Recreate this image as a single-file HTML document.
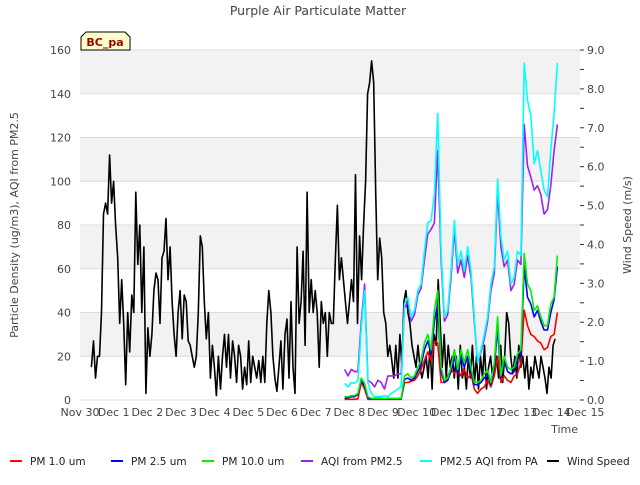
<!DOCTYPE html>
<html><head><meta charset="utf-8"><style>
body{margin:0;background:#fff;font-family:"Liberation Sans","DejaVu Sans",sans-serif;}
svg text{font-family:"DejaVu Sans","Liberation Sans",sans-serif;}
</style></head><body>
<svg id="chart" width="640" height="480" xmlns="http://www.w3.org/2000/svg"></svg>
<script>
// ---- data ----
const dayLabels = ["Nov 30","Dec 1","Dec 2","Dec 3","Dec 4","Dec 5","Dec 6","Dec 7","Dec 8","Dec 9","Dec 10","Dec 11","Dec 12","Dec 13","Dec 14","Dec 15"];
const leftTicks = [0,20,40,60,80,100,120,140,160];
const rightTicks = [0,1,2,3,4,5,6,7,8,9];
// wind speed samples (read in left-axis units, converted to m/s below), uniform spacing
const windStart = 0.34, windEnd = 14.11;
const windRaw = [15,27,10,20,20,40,85,90,85,112,90,100,80,65,35,55,35,7,40,22,48,40,95,62,80,40,70,3,33,20,30,50,58,55,35,65,68,83,55,70,45,30,20,40,50,28,48,45,27,25,20,15,20,40,75,70,45,28,40,10,25,15,2,20,5,20,30,15,30,10,27,20,8,25,20,5,15,7,27,8,20,15,10,18,8,20,8,35,50,40,20,10,4,15,27,5,30,37,10,45,15,3,70,35,45,68,25,95,40,55,40,50,40,15,45,35,40,20,40,35,35,65,89,55,65,55,45,35,45,55,45,103,35,75,55,80,100,140,145,155,145,95,55,74,65,40,35,20,25,18,10,25,10,30,15,45,50,40,35,25,20,15,25,15,10,15,20,10,25,5,30,25,55,35,15,30,10,25,15,20,10,20,5,25,10,15,5,20,10,25,8,20,5,20,10,25,5,15,20,10,15,20,10,25,8,20,40,35,20,12,20,10,25,15,20,10,20,5,15,10,20,15,10,20,15,10,3,15,10,25,28];
const windSpeed = windRaw.map(v => v * 9 / 160);
// PM series, uniform spacing
const pmStart = 7.86, pmEnd = 14.18;
const pmPA = [7.6,6,8,7.6,9,33,50,8,3,1.5,1.5,1.5,2,1.5,3,4,5,6,44,47,38,41,50,53,68,81,82,94,131,68,38,41,59,82,62,68,59,70,59,38,17,23,30,38,53,61,101,75,64,68,53,56,68,66,154,137,130,108,114,105,96,93,114,131,154];
const aqi25 = [14,11,14,13,13,36,53,9,8,6,9,8,5,11,11,11,12,12,42,45,36,39,48,51,64,76,78,81,114,64,36,39,56,78,58,64,56,66,56,36,17,22,28,36,50,58,95,70,61,64,50,53,64,62,126,107,102,96,98,94,85,87,98,114,126];
const pm10 = [1.5,1.5,2,2,3,10,7.6,1.5,0.8,0.8,0.8,0.8,0.8,0.8,0.8,0.8,0.8,0.8,11,12,10,11,15,18,26,30,23,41,50,15,9,10,15,23,14,23,17,23,15,8,8,9,12,14,8,17,38,11,20,15,14,15,21,23,67,53,50,41,43,38,34,34,44,47,66];
const pm25 = [1,1,1.5,1.5,2.5,9,6.5,1,0.6,0.6,0.6,0.6,0.6,0.6,0.6,0.6,0.6,0.6,9.5,10,9,10,13,16,23,27,21,36,44,13,8,9,13,20,12,20,15,20,13,7,7,8,10,12,7,15,33,10,18,13,12,13,19,20,61,47,44,38,41,36,32,32,40,46,61];
const pm1 = [0.3,0.3,0.3,0.3,0.5,8,5,0.3,0.3,0.3,0.3,0.3,0.3,0.3,0.3,0.3,0.3,0.3,8,8,8.5,9,11,14,18,22,18,27,26,8,8,11,14,12,14,11,14,10,12,5,3,5,6,9,6,11,20,8,11,9,8,11,12,17,41,34,30,29,27,26,23,24,29,30,40];

// ---- layout ----
const svg = document.getElementById('chart');
const NS = 'http://www.w3.org/2000/svg';
const L = 80, R = 580, T = 50, B = 400, DAYMAX = 14.85;
const xs = d => L + (d / DAYMAX) * (R - L);
const yL = v => B - (v / 160) * (B - T);
const yR = v => B - (v / 9) * (B - T);
function mk(tag, attrs, parent) {
  const e = document.createElementNS(NS, tag);
  for (const k in attrs) e.setAttribute(k, attrs[k]);
  (parent || svg).appendChild(e);
  return e;
}
function txt(s, attrs, parent) { const e = mk('text', attrs, parent); e.textContent = s; return e; }

const bands = mk('g', {});


for (let i = 0; i < leftTicks.length - 1; i++) {
  mk('rect', {x: L, y: yL(leftTicks[i+1]), width: R - L, height: yL(leftTicks[i]) - yL(leftTicks[i+1]), fill: i % 2 === 1 ? '#f2f2f2' : '#ffffff'}, bands);
}
const grid = mk('g', {});


leftTicks.forEach(v => mk('line', {x1: L, x2: R, y1: yL(v), y2: yL(v), stroke: '#dcdcdc', 'stroke-width': 1}, grid));

const la = mk('g', {});


leftTicks.forEach(v => txt(String(v), {x: 71, y: yL(v) + 4, 'text-anchor': 'end', 'font-size': 11, fill: '#444'}, la));
const lt = txt('Particle Density (ug/m3), AQI from PM2.5', {x: 18, y: 225, transform: 'rotate(-90 18 225)', 'text-anchor': 'middle', 'font-size': 11, fill: '#444'});



const ra = mk('g', {});


for (let i = 0; i <= 18; i++) {
  const v = i * 0.5;
  mk('line', {x1: 580, x2: 584, y1: yR(v), y2: yR(v), stroke: '#333', 'stroke-width': 1}, ra);
}
rightTicks.forEach(v => txt(v.toFixed(1), {x: 587, y: yR(v) + 4, 'font-size': 11, fill: '#444'}, ra));
const rt = txt('Wind Speed (m/s)', {x: 631, y: 225, transform: 'rotate(-90 631 225)', 'text-anchor': 'middle', 'font-size': 11, fill: '#444'});



const xa = mk('g', {});


dayLabels.forEach((s, i) => txt(s, {x: xs(i), y: 416, 'text-anchor': 'middle', 'font-size': 11, fill: '#444'}, xa));
const xt = txt('Time', {x: 578, y: 433, 'text-anchor': 'end', 'font-size': 11, fill: '#444'});



function line(vals, start, end, yfn, color, name, w) {
  const n = vals.length, step = (end - start) / (n - 1);
  const pts = vals.map((v, i) => xs(start + i * step).toFixed(1) + ',' + yfn(v).toFixed(1)).join(' ');
  const p = mk('polyline', {points: pts, fill: 'none', stroke: color, 'stroke-width': w || 1.6, 'stroke-linejoin': 'round'});
  
  
}
line(windSpeed, windStart, windEnd, yR, '#000000', 'wind-speed-line', 1.6);
line(pm1, pmStart, pmEnd, yL, '#ff0000', 'pm1-line');
line(pm25, pmStart, pmEnd, yL, '#0000ff', 'pm25-line');
line(pm10, pmStart, pmEnd, yL, '#00ee00', 'pm10-line');
line(aqi25, pmStart, pmEnd, yL, '#a020f0', 'aqi-pm25-line');
line(pmPA, pmStart, pmEnd, yL, '#00ffff', 'pa-aqi-line');

const title = txt('Purple Air Particulate Matter', {x: 318, y: 15, 'text-anchor': 'middle', 'font-size': 12.5, fill: '#444'});



const tag = mk('g', {});


mk('path', {d: 'M81,50 L81,37 L86,32 L125,32 L130,37 L130,50 Z', fill: '#ffffcc', stroke: '#000', 'stroke-width': 1}, tag);
txt('BC_pa', {x: 105, y: 46, 'text-anchor': 'middle', 'font-size': 11, 'font-weight': 'bold', fill: '#a00000'}, tag);

const legItems = [['PM 1.0 um','#ff0000',10],['PM 2.5 um','#0000ff',111],['PM 10.0 um','#00ee00',202],['AQI from PM2.5','#a020f0',301],['PM2.5 AQI from PA','#00ffff',420],['Wind Speed','#000000',547]];
const leg = mk('g', {});


legItems.forEach(([label, color, x]) => {
  const g = mk('g', {}, leg);
  
  
  mk('line', {x1: x, x2: x + 12, y1: 461, y2: 461, stroke: color, 'stroke-width': 2}, g);
  txt(label, {x: x + 20, y: 465, 'font-size': 10.5, fill: '#222'}, g);
});
</script>
</body></html>
